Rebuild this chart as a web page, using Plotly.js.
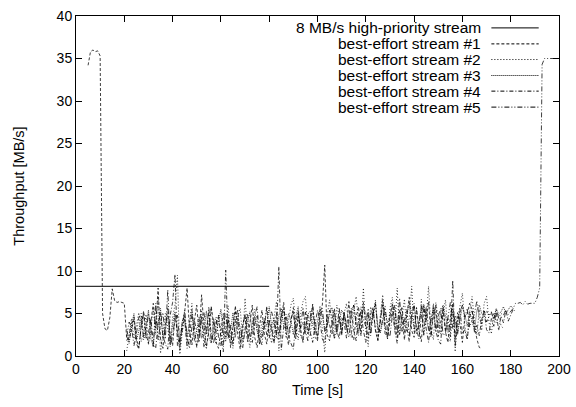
<!DOCTYPE html>
<html>
<head>
<meta charset="utf-8">
<script src="https://cdn.plot.ly/plotly-3.0.1.min.js"></script>
<style>html,body{margin:0;padding:0;background:#fff;}#chart{width:576px;height:407px;}</style>
</head>
<body>
<div id="chart"></div>
<script>
// ---- data ----
const seriesNames = ["8 MB/s high-priority stream","best-effort stream #1","best-effort stream #2","best-effort stream #3","best-effort stream #4","best-effort stream #5"];

const hpTime = [0, 80];
const hpThroughput = [8.2, 8.2];

const s1Start = 5;
const s1Values = [34.2,35.8,36.0,35.8,35.9,35.3,5.0,3.2,3.0,4.5,7.9,6.5,6.3,6.4,6.3,6.2,2.0,
 1.9,3.0,4.6,2.1,1.0,3.4,5.3,2.6,1.5,4.0,
 6.2,3.3,8.0,2.0,0.9,3.7,5.6,2.5,1.2,4.8,
 2.6,0.7,3.9,5.2,8.0,3.0,1.3,4.1,6.0,2.4,
 7.2,3.5,1.1,2.8,5.8,3.9,1.6,0.9,3.3,5.0,
 2.2,4.6,1.0,3.2,5.9,2.4,0.8,3.6,4.9,1.7,
 3.9,6.0,2.2,1.0,3.5,5.4,2.6,1.4,4.2,3.0,
 1.5,5.1,2.5,4.3,6.3,2.8,1.3,4.1,5.7,2.0,
 4.7,3.2,1.6,5.3,2.6,4.0,6.1,2.2,1.8,5.0,
 6.0,10.7,2.5,1.8,4.2,5.6,3.0,4.6,2.4,5.2,
 3.3,6.4,2.7,1.9,4.6,5.8,2.4,6.3,3.8,2.1,
 4.9,5.7,3.0,1.8,4.6,6.6,3.7,2.0,4.8,6.1,
 3.9,2.2,5.4,4.4,1.9,4.9,6.9,3.0,2.2,5.7,
 3.0,1.7,5.6,4.2,6.4,2.4,4.8,6.0,2.3,3.9,
 5.6,2.8,1.6,4.5,6.2,2.0,5.1,3.8,1.6,4.6,
 5.0,6.2,5.5,3.5,2.0,1.0,0.9];

const s2Start = 21;
const s2Values = [0.6,2.3,4.4,2.0,3.8,5.1,1.7,2.6,4.9,1.3,
 3.2,5.6,2.5,7.0,0.3,2.4,5.0,3.3,1.1,4.6,
 6.0,9.5,0.2,2.8,4.4,1.5,3.9,6.2,2.0,1.2,
 3.6,5.4,2.2,0.8,3.9,5.8,2.5,1.4,4.8,3.0,
 1.2,3.5,5.9,2.4,0.9,3.8,4.7,5.6,2.0,6.8,
 2.6,1.0,3.9,5.5,2.9,1.6,4.2,3.7,5.8,2.8,
 1.5,4.5,6.4,0.6,3.8,5.5,2.1,4.2,6.0,6.8,
 3.5,1.9,5.0,6.4,7.0,3.0,2.3,5.3,4.0,1.8,
 5.9,3.2,0.4,4.7,6.6,3.4,2.1,6.0,4.4,2.9,
 5.0,6.2,3.0,2.2,5.3,7.0,4.0,2.6,8.0,3.0,
 1.1,5.8,4.5,6.6,2.3,5.0,7.2,3.4,2.2,5.6,
 6.9,3.1,8.0,2.5,4.6,6.7,2.8,4.4,8.2,2.9,
 5.5,3.0,6.7,2.4,4.4,8.2,3.2,1.9,6.3,4.6,
 2.6,5.0,6.6,2.8,1.7,5.9,0.5,4.3,6.0,7.4,
 3.5,2.0,5.2,7.0,4.1,2.5,5.5,3.0,6.2,7.0,
 4.0,2.6,5.1,3.9,4.6,3.6,3.2];

const s3Start = 21;
const s3Values = [3.2,1.5,3.6,5.0,1.8,2.9,4.7,2.2,3.3,5.4,
 2.0,1.2,4.2,3.5,5.6,2.0,3.2,4.8,1.4,3.7,
 5.2,2.9,1.6,4.1,4.7,2.3,3.9,5.5,1.8,3.0,
 4.6,2.1,3.1,5.3,2.3,1.5,4.4,2.7,4.0,5.5,
 2.6,1.7,4.3,3.0,5.1,2.2,4.5,3.3,1.6,2.8,
 4.1,5.2,2.6,4.6,3.0,1.8,2.9,4.4,3.5,5.8,
 3.6,4.4,2.4,4.8,5.6,3.5,3.1,5.0,4.2,2.5,
 4.6,5.8,3.2,4.0,2.6,4.9,5.3,3.6,2.7,4.1,
 5.5,4.7,3.2,3.5,5.0,5.7,3.8,2.6,4.0,5.4,
 4.8,3.1,3.7,5.3,6.0,3.9,2.9,4.2,5.6,5.1,
 3.4,3.8,5.0,6.3,3.5,2.7,4.1,5.2,3.9,4.6,
 6.0,5.4,3.2,2.5,4.9,3.6,4.8,6.2,5.1,3.3,
 2.6,4.1,5.3,6.1,4.4,3.0,4.2,5.7,4.9,3.3,
 5.2,6.0,4.7,3.0,3.6,5.1,4.0,2.8,4.3,5.8,
 4.9,3.5,5.2,4.1,3.0,5.4,6.0,5.0,4.6,5.3,
 4.8,5.1,4.4,5.6,4.9,5.2,5.8,5.0,5.5,5.9,5.6];

const s4Start = 21;
const s4Values = [1.8,2.5,3.9,4.1,1.5,0.8,3.6,5.0,2.1,2.7,
 4.4,1.6,0.9,3.8,5.1,2.4,1.4,0.8,4.8,6.3,
 9.6,1.2,2.0,3.6,4.3,0.9,2.1,5.0,3.4,1.0,
 2.4,4.7,1.0,3.4,5.1,2.6,1.5,3.7,4.8,2.2,
 0.5,10.1,2.0,3.6,1.3,4.2,5.5,1.8,0.9,3.2,
 5.0,2.2,1.6,3.8,4.7,1.4,2.4,3.3,5.8,2.1,
 3.6,1.8,2.5,10.5,0.7,3.4,4.9,2.2,1.5,0.8,
 3.9,5.3,2.3,1.9,3.5,4.8,2.8,1.6,3.7,5.4,
 4.2,2.0,1.5,4.9,3.6,2.6,5.2,3.0,2.0,4.5,
 4.0,2.1,4.7,5.6,3.0,1.8,4.5,5.2,3.0,1.6,
 4.8,2.7,5.5,3.1,1.9,4.3,6.0,2.6,2.2,4.0,
 5.3,3.0,1.5,4.6,5.8,2.8,3.3,1.7,4.9,6.2,
 3.2,2.0,4.6,6.0,3.2,1.6,4.5,5.4,2.9,1.9,
 1.4,5.7,3.0,4.4,2.3,8.9,1.1,4.0,5.5,2.6,
 3.1,1.9,4.6,5.4,2.8,3.6,2.4,4.3,5.3,3.1,
 2.7,4.4,3.5,5.2,3.0,4.7,3.9,5.4,4.1,4.8,5.5,5.2];

const s5Start = 21;
const s5Values = [2.3,4.0,3.4,1.2,2.6,4.5,5.0,1.9,2.8,5.0,
 3.6,1.1,6.2,1.8,4.0,5.1,2.0,7.8,1.3,2.4,
 4.4,4.8,1.6,3.0,5.4,2.2,0.9,3.4,4.2,2.7,
 1.6,4.4,5.1,2.5,5.8,1.5,3.1,4.6,2.3,1.2,
 3.7,5.0,2.4,1.6,3.3,5.2,4.0,1.7,3.5,4.8,
 2.6,1.7,3.6,4.8,5.8,2.0,1.3,4.1,2.5,3.8,
 5.2,4.1,2.2,2.0,4.8,5.7,3.1,2.6,4.3,5.3,
 2.5,4.9,3.3,5.7,2.9,1.8,4.6,5.9,3.4,2.3,
 4.4,5.6,2.8,3.5,5.4,4.7,2.0,3.0,5.7,2.6,
 5.2,3.4,2.2,4.6,6.0,3.7,2.4,5.8,4.3,3.5,
 5.6,2.4,4.7,6.1,3.3,2.8,4.5,5.9,2.9,2.3,
 4.8,6.0,3.1,6.8,2.9,4.3,5.5,2.4,4.6,5.8,
 3.0,3.6,5.9,2.5,5.8,3.3,2.2,6.2,2.8,4.7,
 5.6,2.4,2.7,4.5,6.3,3.2,4.8,2.5,5.2,6.0,
 4.6,5.6,3.4,4.2,5.0,6.5,4.4,3.8,5.3,4.0,
 4.7,5.2,4.1,5.5,4.5,5.0,4.8,5.4,4.9,5.3,
 5.6,6.2,6.2,6.3,6.0,6.4,6.1,6.2,6.2,6.2,
 6.9,8.0,34.3,35.0,35.0,35.0,35.0,35.0,35.0,35.0];

const xTicks = [0,20,40,60,80,100,120,140,160,180,200];
const yTicks = [0,5,10,15,20,25,30,35,40];

// ---- build ----
function times(start, n){ const t=[]; for(let i=0;i<n;i++) t.push(start+i); return t; }
const dashes = ["solid","3px,2px","1px,2px","1px,1px","4px,2px,1px,2px","5px,2px,1px,2px,1px,2px"];
const seriesX = [hpTime, times(s1Start,s1Values.length), times(s2Start,s2Values.length), times(s3Start,s3Values.length), times(s4Start,s4Values.length), times(s5Start,s5Values.length)];
const seriesY = [hpThroughput, s1Values, s2Values, s3Values, s4Values, s5Values];

const traces = seriesY.map((y,i)=>({x:seriesX[i], y:y, type:'scatter', mode:'lines', name:seriesNames[i],
  line:{color:'#000', width:i===0?1:0.75, dash:dashes[i]}, showlegend:false}));

const font = {family:'"Liberation Sans", Arial, Helvetica, sans-serif', color:'#000'};
const legendRows = [0.965,0.918,0.872,0.825,0.779,0.732];
const annotations = seriesNames.map((n,i)=>({xref:'paper', yref:'paper', x:0.842, y:legendRows[i], xanchor:'right', yanchor:'middle', text:n, showarrow:false, font:Object.assign({size:15.5},font)}));
const shapes = seriesNames.map((n,i)=>({type:'line', xref:'paper', yref:'paper', x0:0.86, x1:0.958, y0:legendRows[i], y1:legendRows[i], line:{color:'#000', width:1, dash:dashes[i]}}));

const axisCommon = {showgrid:false, zeroline:false, showline:true, linecolor:'#000', linewidth:1, mirror:'ticks', ticks:'inside', ticklen:6, tickcolor:'#000', tickfont:Object.assign({size:14},font)};
const layout = {
  width:576, height:407, margin:{l:76, r:17, t:16, b:51},
  paper_bgcolor:'#fff', plot_bgcolor:'#fff', font:font,
  xaxis:Object.assign({}, axisCommon, {range:[0,200], tickvals:xTicks, ticktext:xTicks.map(String), title:{text:'Time [s]', font:Object.assign({size:14.5},font), standoff:9}}),
  yaxis:Object.assign({}, axisCommon, {range:[0,40], tickvals:yTicks, ticktext:yTicks.map(String), title:{text:'Throughput [MB/s]', font:Object.assign({size:14.5},font), standoff:28}}),
  annotations:annotations, shapes:shapes
};
Plotly.newPlot('chart', traces, layout, {staticPlot:true, displayModeBar:false});
</script>
</body>
</html>
